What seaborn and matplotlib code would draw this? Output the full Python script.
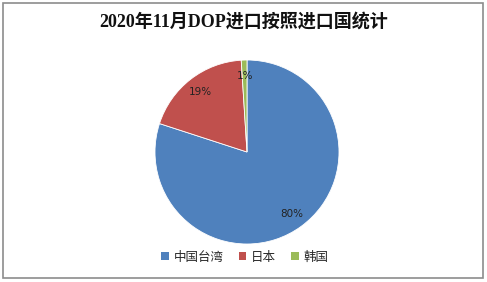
import matplotlib
matplotlib.use("Agg")
import matplotlib.pyplot as plt
import matplotlib.patches as mpatches
import numpy as np
import seaborn as sns

sns.set_theme(style="white")
plt.rcParams['font.family'] = ['Noto Sans CJK SC', 'DejaVu Sans']

title = "2020年11月DOP进口按照进口国统计"
categories = ["中国台湾", "日本", "韩国"]
values = [80, 19, 1]
labels_pct = ["80%", "19%", "1%"]
colors = ["#4F81BD", "#C0504D", "#9BBB59"]

W, H = 487, 282
fig = plt.figure(figsize=(W / 100, H / 100), dpi=100)
fig.patch.set_facecolor("white")

cx, cy, r = 247, 152, 92
ax = fig.add_axes([(cx - r) / W, (H - cy - r) / H, 2 * r / W, 2 * r / H])
wedges, _ = ax.pie(values, colors=colors, startangle=90, counterclock=False,
                   radius=1.0, wedgeprops=dict(edgecolor="white", linewidth=0.6))
ang = 90.0
tot = sum(values)
for v, lab in zip(values, labels_pct):
    span = 360.0 * v / tot
    mid = np.deg2rad(ang - span / 2)
    ax.text(0.83 * np.cos(mid), 0.83 * np.sin(mid), lab, ha="center", va="center",
            fontsize=7.5, family=["DejaVu Sans"], color="#222222")
    ang -= span
ax.set_xlim(-1, 1)
ax.set_ylim(-1, 1)
ax.set_aspect("equal")
ax.axis("off")

fig.text(0.5, 1 - 22 / H, title, ha="center", va="center", fontsize=13,
         fontweight="bold", family=["Liberation Serif", "Noto Sans CJK SC"], color="#111111")

handles = [mpatches.Patch(facecolor=c, edgecolor="none") for c in colors]
fig.legend(handles, categories, loc="center", bbox_to_anchor=(245 / W, 1 - 257 / H),
           ncol=3, frameon=False, fontsize=9, handlelength=0.6, handleheight=0.6,
           handletextpad=0.4, columnspacing=1.2)

border = mpatches.Rectangle((3 / W, 4 / H), 480 / W, 275 / H, transform=fig.transFigure,
                            fill=False, edgecolor="#8c8c8c", linewidth=1.2)
fig.patches.append(border)

fig.savefig("out.png", dpi=100)
